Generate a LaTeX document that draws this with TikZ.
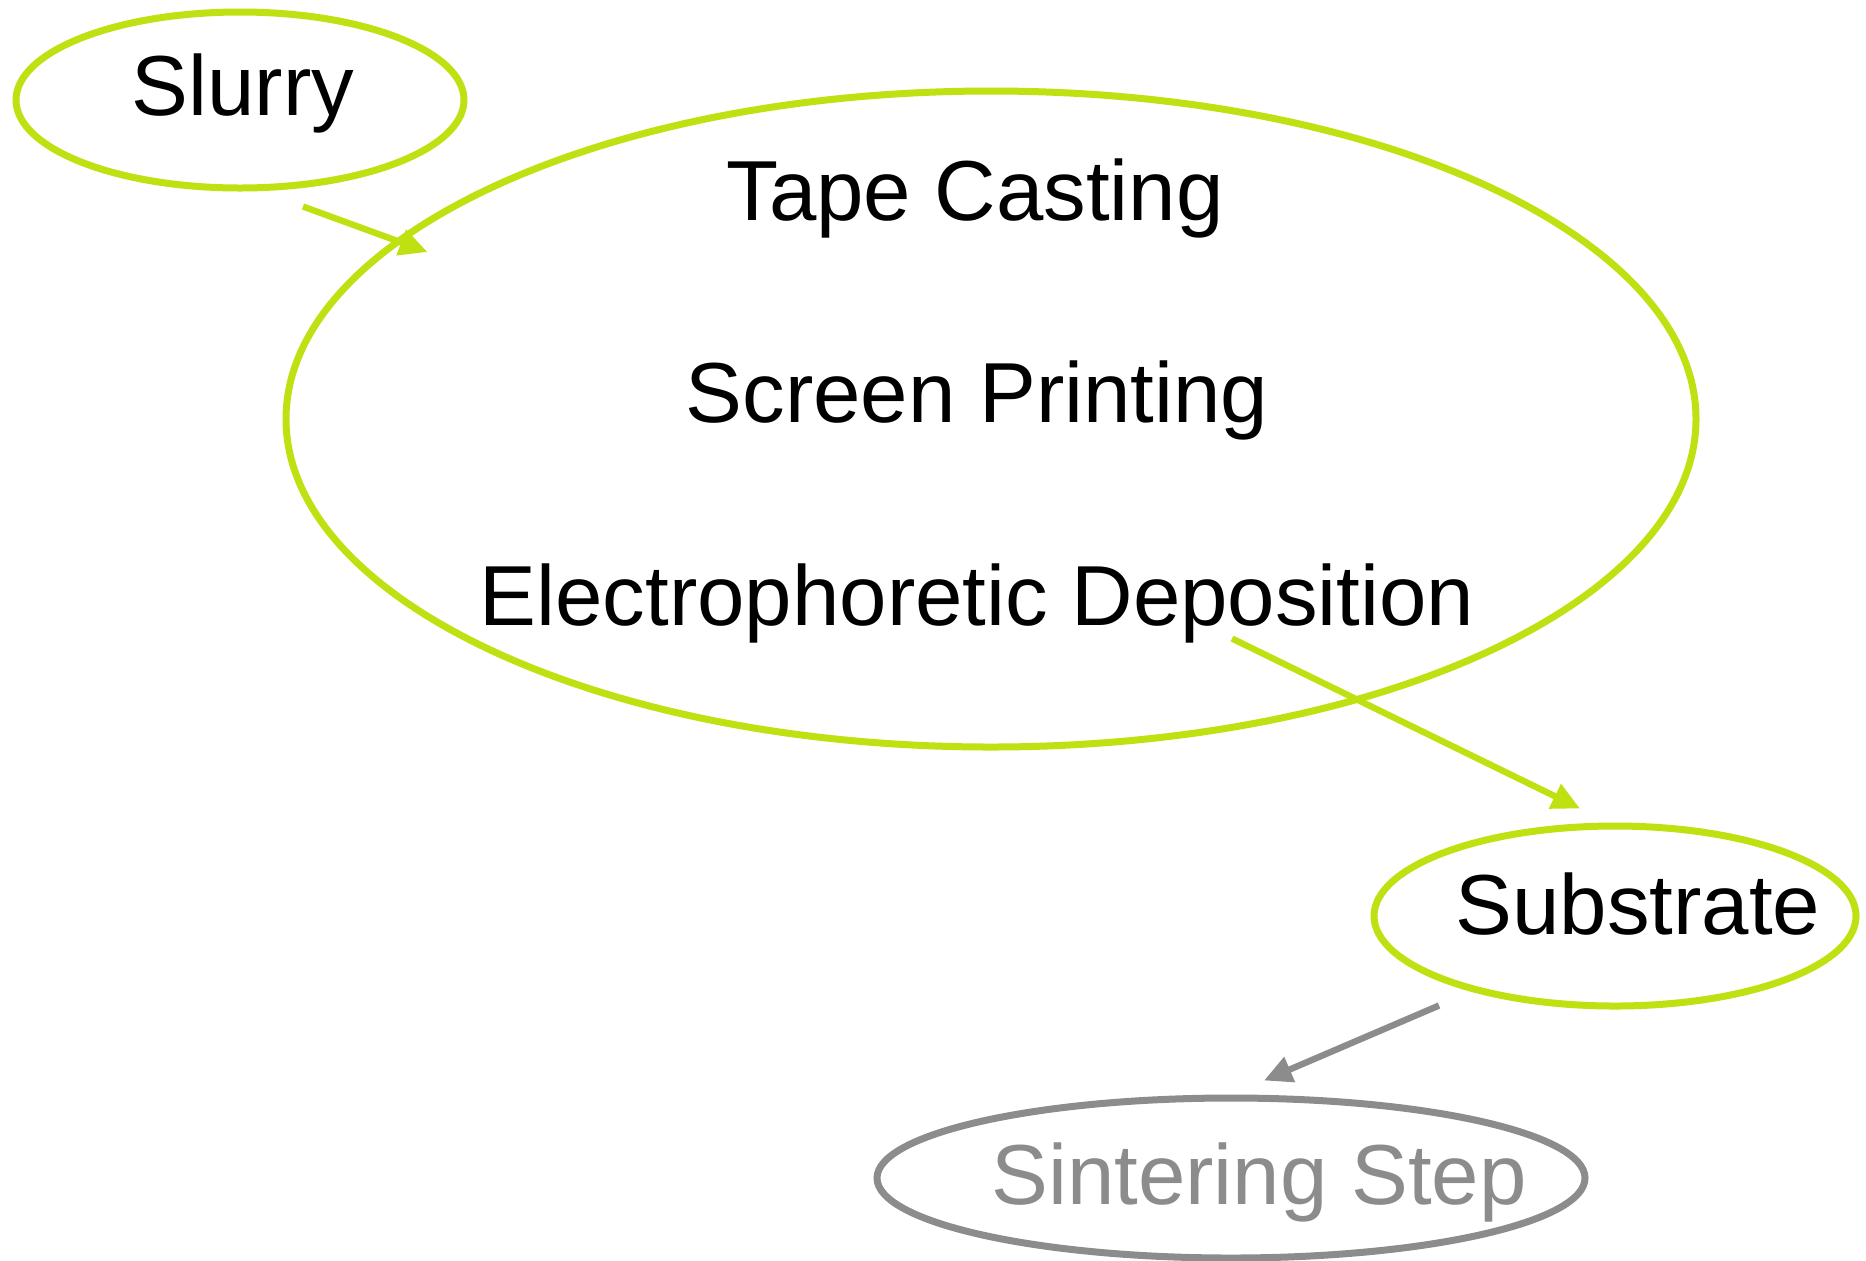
\documentclass[tikz,border=0pt]{standalone}
\usepackage{xcolor}
\definecolor{bfe011}{HTML}{BFE011}
\definecolor{8c8c8c}{HTML}{8C8C8C}
\usepackage{fontspec}
\setmainfont{Liberation Sans}
\usepackage{tikz}
\usetikzlibrary{shapes.geometric}
\usetikzlibrary{arrows.meta}

\begin{document}
\begin{tikzpicture}[x=0.5pt, y=-0.5pt, font=\fontsize{42.6}{52}\selectfont]
            \useasboundingbox (0,0) rectangle (1866,1260);

            % the four stages
            \node (slurry) at (240,100) [ellipse, draw=bfe011, line width=3.5pt, minimum width=224pt, minimum height=88pt] {};
            \node (process) at (991,419) [ellipse, draw=bfe011, line width=3.5pt, minimum width=705pt, minimum height=328pt] {};
            \node (substrate) at (1615,916) [ellipse, draw=bfe011, line width=3.5pt, minimum width=241pt, minimum height=90pt] {};
            \node (sintering) at (1231,1178) [ellipse, draw=8c8c8c, line width=3.5pt, minimum width=354pt, minimum height=80pt] {};

            \foreach \name/\txt/\x/\y in {slurrytext/Slurry/243/115, tape/Tape Casting/975/220, screen/Screen Printing/977/422, epd/Electrophoretic Deposition/977/625, substratetext/Substrate/1638/934} {
                \node (\name) at (\x,\y) [anchor=base] {\txt};
            }
            \node (sinteringtext) at (1259,1204) [anchor=base, text=8c8c8c] {Sintering Step};

            \draw[bfe011, line width=3.2pt, -{Triangle[length=14pt, width=13pt]}] ([shift={(63,15)}]slurry.south) -- ([shift={(145,-167)}]process.west);
            \draw[bfe011, line width=3.2pt, -{Triangle[length=14pt, width=13pt]}] ([shift={(241,-112)}]process.south) -- ([shift={(-35,-14)}]substrate.north);
            \draw[8c8c8c, line width=3.2pt, -{Triangle[length=14pt, width=13pt]}] ([shift={(-176,-4)}]substrate.south) -- ([shift={(33,-14)}]sintering.north);
        \end{tikzpicture}
\end{document}
